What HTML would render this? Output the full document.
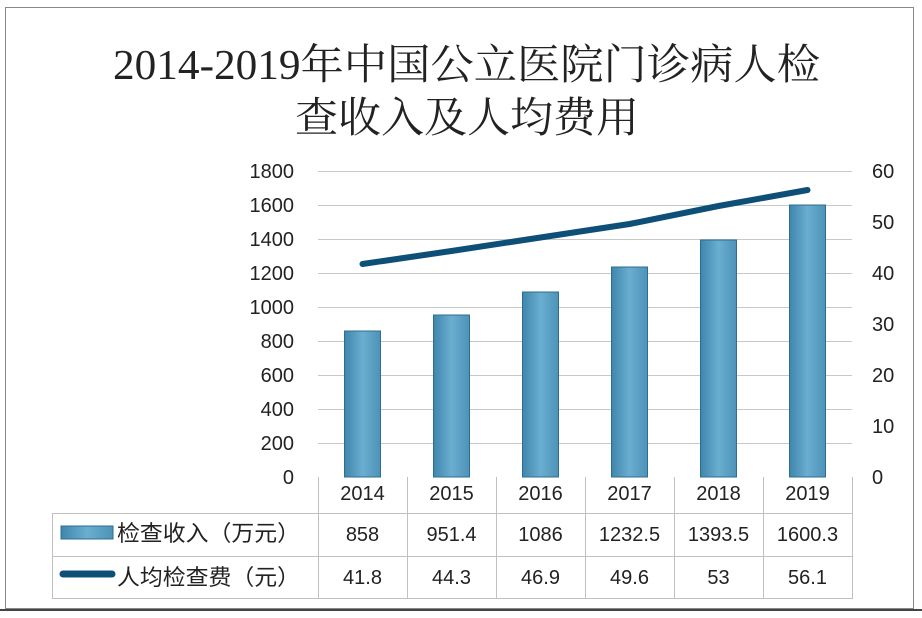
<!DOCTYPE html>
<html><head><meta charset="utf-8"><style>
html,body{margin:0;padding:0;background:#fff;}
svg{display:block;}
text{font-family:"Liberation Sans","Noto Sans CJK SC",sans-serif;fill:#222;}
</style></head><body>
<svg width="922" height="618" viewBox="0 0 922 618" xmlns="http://www.w3.org/2000/svg">
<defs>
<linearGradient id="bg" x1="0" x2="1" y1="0" y2="0">
<stop offset="0" stop-color="#3f86ad"/><stop offset="0.5" stop-color="#6aaed0"/><stop offset="1" stop-color="#4d92b8"/>
</linearGradient>
</defs>
<rect x="5.5" y="7.5" width="908" height="601" fill="#fff" stroke="#888" stroke-width="1"/>
<line x1="0" y1="610" x2="922" y2="610" stroke="#444" stroke-width="2"/>
<text x="113" y="79" font-size="42" textLength="707" lengthAdjust="spacingAndGlyphs" style="font-family:'Liberation Serif','Noto Serif CJK SC',serif" fill="#111">2014-2019年中国公立医院门诊病人检</text>
<text x="295" y="132" font-size="42" textLength="344" lengthAdjust="spacingAndGlyphs" style="font-family:'Liberation Serif','Noto Serif CJK SC',serif" fill="#111">查收入及人均费用</text>
<g stroke="#c8c8c8" stroke-width="1">
<line x1="318" x2="852" y1="171.5" y2="171.5"/><line x1="318" x2="852" y1="205.5" y2="205.5"/>
<line x1="318" x2="852" y1="239.5" y2="239.5"/><line x1="318" x2="852" y1="273.5" y2="273.5"/>
<line x1="318" x2="852" y1="307.5" y2="307.5"/><line x1="318" x2="852" y1="341.5" y2="341.5"/>
<line x1="318" x2="852" y1="375.5" y2="375.5"/><line x1="318" x2="852" y1="409.5" y2="409.5"/>
<line x1="318" x2="852" y1="443.5" y2="443.5"/>
</g>
<g font-size="20" text-anchor="end">
<text x="294" y="178">1800</text><text x="294" y="212">1600</text><text x="294" y="246">1400</text>
<text x="294" y="280">1200</text><text x="294" y="314">1000</text><text x="294" y="348">800</text>
<text x="294" y="382">600</text><text x="294" y="416">400</text><text x="294" y="450">200</text>
<text x="294" y="484">0</text>
</g>
<g font-size="20">
<text x="872" y="178">60</text><text x="872" y="229">50</text><text x="872" y="280">40</text>
<text x="872" y="331">30</text><text x="872" y="382">20</text><text x="872" y="433">10</text>
<text x="872" y="484">0</text>
</g>
<g fill="url(#bg)" stroke="#2f6d8e" stroke-width="1">
<rect x="344.5" y="331" width="36" height="146"/>
<rect x="433.5" y="315" width="36" height="162"/>
<rect x="522.5" y="292" width="36" height="185"/>
<rect x="611.5" y="267" width="36" height="210"/>
<rect x="700.5" y="240" width="36" height="237"/>
<rect x="789.5" y="205" width="36" height="272"/>
</g>
<polyline points="362.5,264 451.5,251 540.5,237.5 629.5,224 718.5,206 807.5,190" fill="none" stroke="#0e4f78" stroke-width="6" stroke-linecap="round" stroke-linejoin="round"/>
<g stroke="#c0c0c0" stroke-width="1" fill="none">
<line x1="318.5" y1="477" x2="318.5" y2="599"/>
<line x1="407.5" y1="477" x2="407.5" y2="599"/><line x1="496.5" y1="477" x2="496.5" y2="599"/>
<line x1="585.5" y1="477" x2="585.5" y2="599"/><line x1="674.5" y1="477" x2="674.5" y2="599"/>
<line x1="763.5" y1="477" x2="763.5" y2="599"/><line x1="852.5" y1="477" x2="852.5" y2="599"/>
<line x1="52.5" y1="513.5" x2="852" y2="513.5"/><line x1="52.5" y1="556.5" x2="852" y2="556.5"/>
<line x1="52.5" y1="598.5" x2="852" y2="598.5"/><line x1="52.5" y1="513" x2="52.5" y2="599"/>
</g>
<g font-size="20" text-anchor="middle">
<text x="362.5" y="500">2014</text><text x="451.5" y="500">2015</text><text x="540.5" y="500">2016</text>
<text x="629.5" y="500">2017</text><text x="718.5" y="500">2018</text><text x="807.5" y="500">2019</text>
<text x="362.5" y="541">858</text><text x="451.5" y="541">951.4</text><text x="540.5" y="541">1086</text>
<text x="629.5" y="541">1232.5</text><text x="718.5" y="541">1393.5</text><text x="807.5" y="541">1600.3</text>
<text x="362.5" y="584">41.8</text><text x="451.5" y="584">44.3</text><text x="540.5" y="584">46.9</text>
<text x="629.5" y="584">49.6</text><text x="718.5" y="584">53</text><text x="807.5" y="584">56.1</text>
</g>
<rect x="61" y="526" width="52" height="13" fill="url(#bg)" stroke="#2f6d8e"/>
<line x1="63" y1="574" x2="112" y2="574" stroke="#0e4f78" stroke-width="7" stroke-linecap="round"/>
<text x="117" y="541" font-size="22" textLength="183" lengthAdjust="spacingAndGlyphs">检查收入（万元）</text>
<text x="117" y="585" font-size="22" textLength="183" lengthAdjust="spacingAndGlyphs">人均检查费（元）</text>
</svg>
</body></html>
